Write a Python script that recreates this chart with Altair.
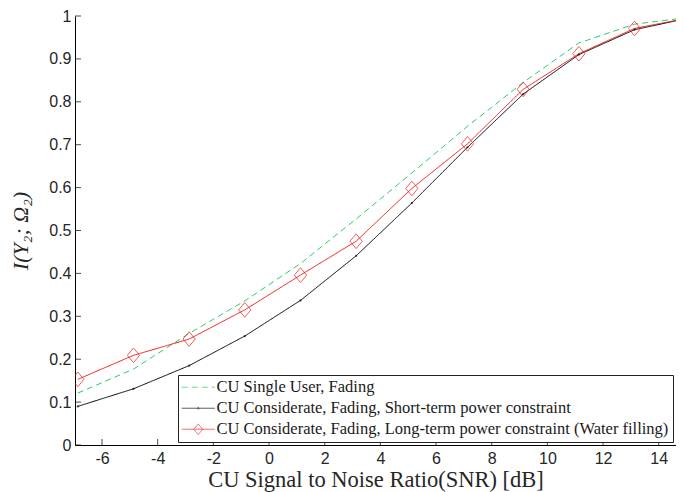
import altair as alt
import pandas as pd

# ---- data ----
snr_db = [-6.87, -4.87, -2.87, -0.87, 1.13, 3.13, 5.13, 7.13, 9.13, 11.13, 13.13, 15.13]
single_user = [0.121, 0.177, 0.260, 0.336, 0.423, 0.527, 0.634, 0.743, 0.845, 0.937, 0.981, 0.997]
short_term = [0.090, 0.131, 0.185, 0.254, 0.337, 0.441, 0.564, 0.694, 0.818, 0.910, 0.968, 0.996]
long_term = [0.153, 0.209, 0.247, 0.315, 0.396, 0.475, 0.598, 0.702, 0.829, 0.912, 0.971, 0.996]

series_names = [
    "CU Single User, Fading",
    "CU Considerate, Fading, Short-term power constraint",
    "CU Considerate, Fading, Long-term power constraint (Water filling)",
]
series_values = [single_user, short_term, long_term]
series_colors = ["#2ecc66", "#000000", "#f01818"]
series_dashes = [[6, 4], [1, 0], [1, 0]]
# legend glyphs: a short line (plus marker), drawn at 5 px per unit
legend_symbols = [
    "M-3.3,0H3.3",
    "M-3.3,0H3.3M-0.2,0L0,-0.2L0.2,0L0,0.2Z",
    "M-3.3,0H3.3M-0.9,0L0,-1.04L0.9,0L0,1.04Z",
]
diamond_path = "M-1,0L0,-1.2L1,0L0,1.2Z"

x_ticks = [-6, -4, -2, 0, 2, 4, 6, 8, 10, 12, 14]
y_ticks = [0, 0.1, 0.2, 0.3, 0.4, 0.5, 0.6, 0.7, 0.8, 0.9, 1]
x_domain = [-6.97, 14.62]
y_domain = [0, 1]

rows = []
for name, vals in zip(series_names, series_values):
    for x, y in zip(snr_db, vals):
        rows.append({"snr": x, "value": y, "series": name})
df = pd.DataFrame(rows)

xscale = alt.Scale(domain=x_domain, nice=False, zero=False)
yscale = alt.Scale(domain=y_domain, nice=False, zero=False)
color_scale = alt.Scale(domain=series_names, range=series_colors)
dash_scale = alt.Scale(domain=series_names, range=series_dashes)
shape_scale = alt.Scale(domain=series_names, range=legend_symbols)

x_axis = alt.Axis(
    values=x_ticks, ticks=False, grid=False, domainColor="black", domainWidth=1,
    labelFont="Liberation Sans", labelFontSize=16, labelColor="#262626",
    labelPadding=5, labelExpr="datum.value + ''",
    title="CU Signal to Noise Ratio(SNR) [dB]", titleFont="Liberation Serif",
    titleFontSize=22.5, titleFontWeight="normal", titleColor="#262626", titlePadding=2,
)
y_axis = alt.Axis(
    values=y_ticks, ticks=False, grid=False, domainColor="black", domainWidth=1,
    labelFont="Liberation Sans", labelFontSize=16, labelColor="#262626",
    labelPadding=4, format=".1~f",
    title="I(Y₂; Ω₂)", titleFont="Liberation Serif", titleFontStyle="italic",
    titleFontSize=22, titleFontWeight="normal", titleColor="#262626", titlePadding=16,
)

base = alt.Chart(df)
X = alt.X("snr:Q", scale=xscale, axis=x_axis)
Y = alt.Y("value:Q", scale=yscale, axis=y_axis)

line_layers = []
for name, col, dash in zip(series_names, series_colors, series_dashes):
    line_layers.append(
        base.transform_filter(alt.datum.series == name)
        .mark_line(strokeWidth=1, color=col, strokeDash=dash, clip=True)
        .encode(x=X, y=Y)
    )

red_pts = base.transform_filter(alt.datum.series == series_names[2]).mark_point(
    shape=diamond_path, filled=False, size=150, strokeWidth=1, color=series_colors[2], clip=True
).encode(x=X, y=Y)

black_pts = base.transform_filter(alt.datum.series == series_names[1]).mark_point(
    shape="circle", filled=True, size=5, color="black", clip=True
).encode(x=X, y=Y)

xt = alt.Chart(pd.DataFrame({"t": x_ticks})).mark_tick(
    orient="vertical", size=6, thickness=1, yOffset=-3, color="black"
).encode(x=alt.X("t:Q", scale=xscale), y=alt.Y(datum=0, scale=yscale))

yt = alt.Chart(pd.DataFrame({"t": y_ticks})).mark_tick(
    orient="horizontal", size=6, thickness=1, xOffset=3, color="black"
).encode(y=alt.Y("t:Q", scale=yscale), x=alt.X(datum=x_domain[0], scale=xscale))

leg = alt.Legend(
    title=None, orient="none", legendX=103, legendY=359,
    symbolSize=100, symbolStrokeWidth=1, symbolOffset=8,
    labelFont="Liberation Serif", labelFontSize=16.5, labelColor="#1a1a1a",
    labelOffset=10, strokeColor="#222222",
    fillColor="white", padding=4, rowPadding=4, labelLimit=600,
)
legend_layer = alt.Chart(pd.DataFrame({"series": series_names})).mark_point(
    filled=False, clip=True, strokeWidth=1
).encode(
    x=alt.value(-60), y=alt.value(-60),
    color=alt.Color("series:N", scale=color_scale, legend=leg),
    shape=alt.Shape("series:N", scale=shape_scale, legend=leg),
    strokeDash=alt.StrokeDash("series:N", scale=dash_scale, legend=leg),
)

chart = alt.layer(*line_layers, black_pts, red_pts, xt, yt, legend_layer).properties(
    width=601, height=429,
    padding={"left": 67, "top": 8, "right": 0, "bottom": 47},
    autosize=alt.AutoSizeParams(type="none"),
    background="white",
).configure_view(stroke=None)

chart.save("out.html", embed_options={"renderer": "svg", "actions": False})
